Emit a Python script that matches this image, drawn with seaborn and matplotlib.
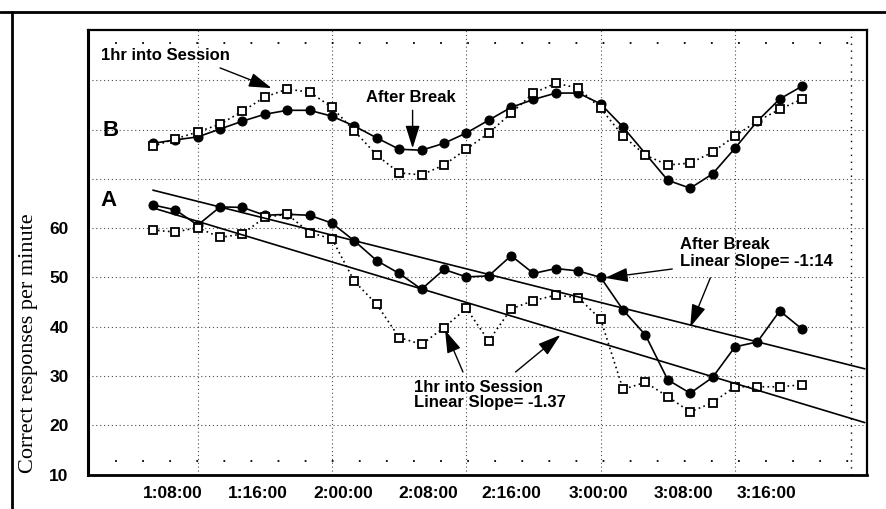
import numpy as np
import pandas as pd
import seaborn as sns
import matplotlib.pyplot as plt
from matplotlib.lines import Line2D

# one point per sample, evenly spaced along the session
point = np.arange(30)

# panel B (upper curves, no scale)
b_after_break = [77.2, 77.9, 78.5, 80.1, 81.7, 83.1, 83.9, 83.9, 82.7, 80.7,
                 78.3, 76.0, 75.8, 77.2, 79.3, 81.9, 84.5, 86.1, 87.4, 87.4,
                 85.2, 80.5, np.nan, 69.7, 68.1, 71.0, 76.2, 81.7, 86.2, 88.8]
b_one_hour = [76.6, 78.1, 79.5, 81.1, 83.7, 86.6, 88.2, 87.6, 84.5, 79.7,
              74.8, 71.2, 70.8, 72.8, 76.0, 79.3, 83.3, 87.4, 89.4, 88.4,
              84.3, 78.7, 74.8, 72.8, 73.2, 75.4, 78.7, 81.7, 84.1, 86.2]

# panel A (correct responses per minute)
a_after_break = [64.7, 63.7, 60.6, 64.3, 64.2, 62.6, 62.8, 62.6, 61.0, 57.4,
                 53.4, 50.8, 47.6, 51.6, 50.1, 50.3, 54.4, 50.8, 51.8, 51.3,
                 50.0, 43.4, 38.3, 29.2, 26.5, 29.7, 35.9, 36.9, 43.2, 39.5]
a_one_hour = [59.6, 59.2, 60.1, 58.1, 58.8, 62.2, 62.8, 59.1, 57.8, 49.2,
              44.5, 37.8, 36.4, 39.8, 43.7, 37.1, 43.6, 45.3, 46.4, 45.9,
              41.5, 27.3, 28.7, 25.8, 22.7, 24.6, 27.8, 27.8, 27.8, 28.2]

# linear trends (after break, 1hr into session)
trend_slope = [-1.14, -1.37]
trend_start = [67.7, 64.1]
trend_span = [0, 31.8]

time_labels = ["1:08:00", "1:16:00", "2:00:00", "2:08:00",
               "2:16:00", "3:00:00", "3:08:00", "3:16:00"]
time_pos = [0.9, 4.7, 8.5, 12.3, 16.0, 19.9, 23.7, 27.4]
grid_x = [2, 8, 14, 20, 26]
y_ticks = [10, 20, 30, 40, 50, 60, 70, 80, 90]
y_labels = ["10", "20", "30", "40", "50", "60", "", "", ""]

sns.set_style("white")
plt.rcParams["font.family"] = ["Liberation Sans", "DejaVu Sans"]
plt.rcParams.update({"text.color": "black", "axes.labelcolor": "black",
                     "xtick.color": "black", "ytick.color": "black"})

fig = plt.figure(figsize=(8.87, 5.09), dpi=100)
ax = fig.add_axes([0.0992, 0.0668, 0.8783, 0.8743])

filled = dict(color="black", lw=1.2, marker="o", markersize=6.5,
              mfc="black", mec="black")
hollow = dict(color="black", lw=1.2, linestyle=(0, (1, 2)), marker="s",
              markersize=6.2, mfc="white", mec="black", mew=1.3)

b_df = pd.DataFrame({"point": point, "after": b_after_break,
                     "hour": b_one_hour})
b_line = b_df.dropna(subset="after")
sns.lineplot(data=b_line, x="point", y="after", ax=ax, **filled)
sns.lineplot(data=b_df, x="point", y="hour", ax=ax, **hollow)

a_df = pd.DataFrame({"point": point, "after": a_after_break,
                     "hour": a_one_hour})
sns.lineplot(data=a_df, x="point", y="after", ax=ax, **filled)
sns.lineplot(data=a_df, x="point", y="hour", ax=ax, **hollow)

for s, b in zip(trend_slope, trend_start):
    span = np.array(trend_span)
    sns.lineplot(x=span, y=b + s * span, ax=ax, color="black", lw=1.2)

ax.set_xlim(-2.9, 31.9)
ax.set_ylim(9.9, 100.2)
ax.set_xticks(time_pos)
ax.set_xticklabels(time_labels, fontsize=12.5, fontweight="bold")
ax.set_xticks(grid_x, minor=True)
ax.set_yticks(y_ticks)
ax.set_yticklabels(y_labels, fontsize=12.5, fontweight="bold")
ax.tick_params(axis="both", which="both", length=0)
ax.tick_params(axis="y", pad=14)
ax.tick_params(axis="x", pad=8)
ax.grid(axis="y", which="major", color="black", lw=0.8,
        linestyle=(0, (1, 2.5)), alpha=0.7)
ax.grid(axis="x", which="minor", color="black", lw=0.8,
        linestyle=(0, (1, 2.5)), alpha=0.7)
ax.axhline(97.5, color="black", lw=1.3, linestyle=(0, (1, 14)))
ax.axhline(12.7, color="black", lw=1.3, linestyle=(0, (1, 14)))
ax.axvline(31.2, color="black", lw=1.0, linestyle=(0, (1, 4)))
ax.set_xlabel("")
ax.set_ylabel("Correct responses per minute", family="Liberation Serif",
              fontsize=16, color="black")
ax.yaxis.set_label_coords(-0.064, 0.297)

for side, w in zip(["left", "bottom", "top", "right"], [2.2, 2.0, 1.6, 1.6]):
    ax.spines[side].set_visible(True)
    ax.spines[side].set_color("black")
    ax.spines[side].set_linewidth(w)

txt = dict(fontsize=12, fontweight="bold", color="black")
ax.text(-2.0, 65.7, "A", ha="center", va="center", fontsize=16,
        fontweight="bold", color="black")
ax.text(-1.9, 79.9, "B", ha="center", va="center", fontsize=16,
        fontweight="bold", color="black")

arrow = dict(arrowstyle="-|>,head_length=0.7,head_width=0.22",
             color="black", lw=1.0, shrinkA=0, shrinkB=0, mutation_scale=20)

ax.text(-2.3, 95.1, "1hr into Session", ha="left", va="center", **txt)
ax.annotate("", xy=(5.3, 88.4), xytext=(3.0, 92.5), arrowprops=arrow)

ax.text(11.5, 86.6, "After Break", ha="center", va="center", **txt)
ax.annotate("", xy=(11.6, 76.2), xytext=(11.6, 83.9), arrowprops=arrow)

ax.text(23.55, 55.0, "After Break\nLinear Slope= -1:14", ha="left",
        va="center", linespacing=1.15, **txt)
ax.annotate("", xy=(20.2, 49.9), xytext=(23.2, 51.7), arrowprops=arrow)
ax.annotate("", xy=(24.0, 39.9), xytext=(24.9, 49.9), arrowprops=arrow)

ax.text(11.66, 26.2, "1hr into Session\nLinear Slope= -1.37", ha="left",
        va="center", linespacing=1.0, **txt)
ax.annotate("", xy=(13.05, 39.3), xytext=(13.85, 30.8), arrowprops=arrow)
ax.annotate("", xy=(18.2, 38.3), xytext=(16.2, 30.8), arrowprops=arrow)

# page frame from the scan
fig.add_artist(Line2D([0, 1], [1 - 12 / 509] * 2, transform=fig.transFigure,
                      color="black", lw=2))
fig.add_artist(Line2D([12 / 887] * 2, [0, 1 - 12 / 509],
                      transform=fig.transFigure, color="black", lw=2))

fig.savefig("out.png", dpi=100)
